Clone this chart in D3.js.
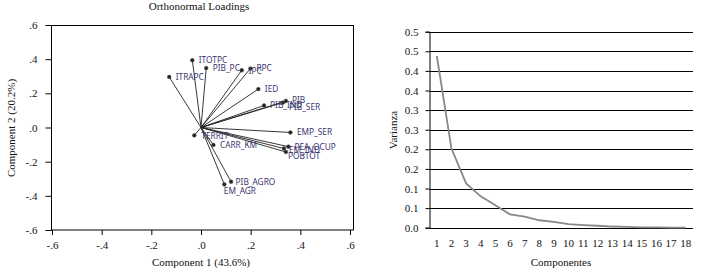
<!DOCTYPE html>
<html>
<head>
<meta charset="utf-8">
<script src="https://cdn.jsdelivr.net/npm/d3@7"></script>
<style>
  body { margin: 0; background: #fff; }
  svg { display: block; }
  .serif { font-family: "Liberation Serif", "DejaVu Serif", serif; }
</style>
</head>
<body>
<div id="plot"></div>
<script>
// loadings (component 1, component 2)
const varNames = ["ITOTPC", "PIB_PC", "ITRAPC", "IPC", "RPC", "IED", "PIB", "PIB_SER", "PIB_IND",
  "EMP_SER", "TERRIT", "CARR_KM", "PEA_OCUP", "EM_IND", "POBTOT", "PIB_AGRO", "EM_AGR"];
const comp1 = [-0.035, 0.021, -0.128, 0.164, 0.199, 0.231, 0.342, 0.330, 0.254,
  0.360, -0.027, 0.050, 0.352, 0.334, 0.342, 0.121, 0.094];
const comp2 = [0.394, 0.348, 0.296, 0.335, 0.345, 0.225, 0.155, 0.146, 0.129,
  -0.029, -0.046, -0.102, -0.112, -0.123, -0.143, -0.317, -0.333];
const loadTicks = [-0.6, -0.4, -0.2, 0, 0.2, 0.4, 0.6];
const loadTickLabels = ["-.6", "-.4", "-.2", ".0", ".2", ".4", ".6"];

// scree plot
const components = ["1","2","3","4","5","6","7","8","9","10","11","12","13","14","15","16","17","18"];
const variance = [0.438, 0.202, 0.113, 0.080, 0.057, 0.034, 0.028, 0.019, 0.015,
  0.009, 0.0066, 0.005, 0.003, 0.002, 0.001, 0.0006, 0.0004, 0.0002];
const varTicks = [0, 0.05, 0.1, 0.15, 0.2, 0.25, 0.3, 0.35, 0.4, 0.45, 0.5];
const varTickLabels = ["0.0", "0.1", "0.1", "0.2", "0.2", "0.3", "0.3", "0.4", "0.4", "0.5", "0.5"];

const width = 701, height = 273;
const svg = d3.select('#plot').append('svg')
  .attr('width', width)
  .attr('height', height);

// label nudges (dx, dy) relative to the marker
const labelOffset = {
  "PIB": [6, -1], "PIB_SER": [6, 5], "PIB_IND": [6, 0], "POBTOT": [2, 4.5],
  "EM_IND": [5, 1.5], "PEA_OCUP": [6, 0], "EM_AGR": [-0.5, 6.5], "PIB_AGRO": [4.5, 0.5],
  "TERRIT": [7, 0.5], "IPC": [7, 0.5], "RPC": [6, -0.5]
};

// ---------- left: orthonormal loadings ----------
const xL = d3.scaleLinear().domain([-0.6, 0.6]).range([52, 350]);
const yL = d3.scaleLinear().domain([-0.6, 0.6]).range([230, 25]);

const left = svg.append('g').attr('class', 'loadings');

left.append('rect')
  .attr('x', 51.5).attr('y', 25.5)
  .attr('width', 302).attr('height', 204.5)
  .attr('fill', 'none').attr('stroke', '#000').attr('stroke-width', 1);

const axL = left.append('g')
  .attr('class', 'serif')
  .attr('transform', 'translate(51.5,0)')
  .call(d3.axisLeft(yL).tickValues(loadTicks)
    .tickFormat((d, i) => loadTickLabels[i]).tickSize(6).tickPadding(8));
const axB = left.append('g')
  .attr('class', 'serif')
  .attr('transform', 'translate(0,230)')
  .call(d3.axisBottom(xL).tickValues(loadTicks)
    .tickFormat((d, i) => loadTickLabels[i]).tickSize(5).tickPadding(6));
[axL, axB].forEach(a => {
  a.select('.domain').remove();
  a.selectAll('text').attr('font-size', 11).attr('fill', '#111')
    .attr('font-family', '"Liberation Serif", serif');
  a.selectAll('line').attr('stroke', '#000');
});

const loadings = varNames.map((n, i) => ({ name: n, x: comp1[i], y: comp2[i] }));

left.selectAll('.spoke').data(loadings).enter().append('line')
  .attr('class', 'spoke')
  .attr('x1', xL(0)).attr('y1', yL(0))
  .attr('x2', d => xL(d.x)).attr('y2', d => yL(d.y))
  .attr('stroke', '#222').attr('stroke-width', 0.9);

left.selectAll('.dot').data(loadings).enter().append('circle')
  .attr('class', 'dot')
  .attr('cx', d => xL(d.x)).attr('cy', d => yL(d.y))
  .attr('r', 1.9)
  .attr('fill', '#222').attr('stroke', '#555').attr('stroke-width', 0.5);

left.selectAll('.lbl').data(loadings).enter().append('text')
  .attr('class', 'lbl')
  .attr('x', d => xL(d.x) + (labelOffset[d.name] ? labelOffset[d.name][0] : 6.5))
  .attr('y', d => yL(d.y) + (labelOffset[d.name] ? labelOffset[d.name][1] : 0))
  .attr('dy', '0.35em')
  .attr('font-family', '"Noto Sans", "DejaVu Sans", sans-serif')
  .attr('font-size', 8.3)
  .attr('fill', '#3b356e')
  .text(d => d.name);

left.append('text')
  .attr('x', 199).attr('y', 10)
  .attr('text-anchor', 'middle')
  .attr('font-family', '"Liberation Serif", serif')
  .attr('font-size', 11)
  .attr('fill', '#111')
  .text('Orthonormal Loadings');

left.append('text')
  .attr('x', 201).attr('y', 266)
  .attr('text-anchor', 'middle')
  .attr('font-family', '"Liberation Serif", serif')
  .attr('font-size', 11)
  .attr('fill', '#111')
  .text('Component 1 (43.6%)');

left.append('text')
  .attr('transform', 'translate(15,128) rotate(-90)')
  .attr('text-anchor', 'middle')
  .attr('font-family', '"Liberation Serif", serif')
  .attr('font-size', 11)
  .attr('fill', '#111')
  .text('Component 2 (20.2%)');

// ---------- right: scree plot ----------
const xR = d3.scaleBand().domain(components).range([429.5, 693]);
const yR = d3.scaleLinear().domain([0, 0.5]).range([227.7, 31.7]);

const right = svg.append('g').attr('class', 'scree');

right.selectAll('.grid').data(varTicks).enter().append('line')
  .attr('class', 'grid')
  .attr('x1', 429.5).attr('x2', 693)
  .attr('y1', d => Math.round(yR(d)) + 0.5).attr('y2', d => Math.round(yR(d)) + 0.5)
  .attr('stroke', '#000').attr('stroke-width', 1);

const axR = right.append('g')
  .attr('transform', 'translate(429.5,0)')
  .call(d3.axisLeft(yR).tickValues(varTicks)
    .tickFormat((d, i) => varTickLabels[i]).tickSize(4).tickPadding(7).offset(0.5));
axR.select('.domain').attr('stroke', '#000');
axR.selectAll('text').attr('font-size', 11).attr('fill', '#111')
  .attr('font-family', '"Liberation Serif", serif');

const axRB = right.append('g')
  .attr('transform', 'translate(0,228)')
  .call(d3.axisBottom(xR).tickSize(0).tickPadding(11));
axRB.select('.domain').remove();
axRB.selectAll('text').attr('font-size', 11).attr('fill', '#111')
  .attr('font-family', '"Liberation Serif", serif');

const line = d3.line()
  .x((d, i) => xR(components[i]) + xR.bandwidth() / 2)
  .y(d => yR(d));

right.append('path')
  .datum(variance)
  .attr('d', line)
  .attr('fill', 'none')
  .attr('stroke', '#888')
  .attr('stroke-width', 1.8);

right.append('text')
  .attr('x', 561).attr('y', 266)
  .attr('text-anchor', 'middle')
  .attr('font-family', '"Liberation Serif", serif')
  .attr('font-size', 11)
  .attr('fill', '#111')
  .text('Componentes');

right.append('text')
  .attr('transform', 'translate(397,130) rotate(-90)')
  .attr('text-anchor', 'middle')
  .attr('font-family', '"Liberation Serif", serif')
  .attr('font-size', 11)
  .attr('fill', '#111')
  .text('Varianza');
</script>
</body>
</html>
